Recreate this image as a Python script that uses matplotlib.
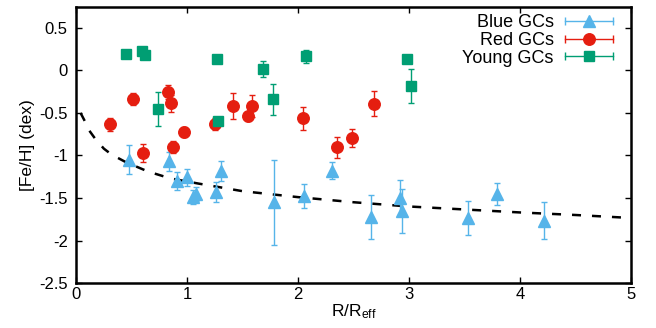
import matplotlib
matplotlib.use('Agg')
from matplotlib import pyplot as plt
from matplotlib.lines import Line2D
from matplotlib.legend_handler import HandlerLine2D, HandlerTuple

plt.rcParams['font.family'] = ['Liberation Sans', 'DejaVu Sans']
plt.rcParams['mathtext.fontset'] = 'custom'
plt.rcParams['mathtext.rm'] = 'Liberation Sans'
plt.rcParams['mathtext.it'] = 'Liberation Sans:italic'
plt.rcParams['axes.unicode_minus'] = False

# Blue GCs
blue_r = [0.48, 0.835, 0.907, 1.003, 1.057, 1.08, 1.26, 1.31, 1.78, 2.05, 2.31,
          2.655, 2.92, 2.94, 3.53, 3.79, 4.22]
blue_feh = [-1.05, -1.07, -1.30, -1.255, -1.49, -1.45, -1.43, -1.18, -1.55, -1.48, -1.18,
            -1.72, -1.50, -1.65, -1.73, -1.45, -1.765]
blue_err = [0.17, 0.11, 0.11, 0.10, 0.08, 0.08, 0.12, 0.12, 0.50, 0.14, 0.10,
            0.26, 0.21, 0.26, 0.20, 0.13, 0.22]

# Red GCs
red_r = [0.306, 0.514, 0.606, 0.832, 0.856, 0.877, 0.973, 1.255, 1.417, 1.55, 1.583,
         2.04, 2.35, 2.49, 2.685]
red_feh = [-0.635, -0.333, -0.97, -0.255, -0.385, -0.906, -0.725, -0.635, -0.416, -0.54, -0.416,
           -0.565, -0.906, -0.796, -0.392]
red_err = [0.08, 0.07, 0.11, 0.08, 0.10, 0.07, 0.06, 0.07, 0.15, 0.05, 0.13,
           0.14, 0.12, 0.11, 0.145]

# Young GCs
young_r = [0.45, 0.595, 0.62, 0.736, 1.27, 1.28, 1.68, 1.775, 2.07, 2.985, 3.015]
young_feh = [0.19, 0.227, 0.176, -0.459, 0.133, -0.596, 0.016, -0.341, 0.165, 0.133, -0.188]
young_err = [0.02, 0.02, 0.02, 0.20, 0.02, 0.05, 0.09, 0.18, 0.08, 0.05, 0.20]

# dashed profile
prof_r = [0.04, 0.08, 0.12, 0.17, 0.25, 0.32, 0.45, 0.65, 0.85, 1.1, 1.5, 2.0,
          2.5, 3.0, 3.5, 4.0, 4.5, 5.0]
prof_feh = [-0.50, -0.60, -0.71, -0.80, -0.92, -0.99, -1.08, -1.19, -1.27, -1.33, -1.42, -1.49,
            -1.55, -1.60, -1.635, -1.67, -1.70, -1.735]

c_blue = '#56b4e9'
c_red = '#e51e10'
c_green = '#009e73'

fig = plt.figure(figsize=(6.56, 3.28), dpi=100)
ax = fig.add_axes([0.116, 0.137, 0.846, 0.843])

ax.plot(prof_r, prof_feh, color='black', lw=1.8, linestyle=(0, (3.6, 4.4)), zorder=1)

ax.errorbar(blue_r, blue_feh, yerr=blue_err, fmt='^', color=c_blue, ms=9, mec=c_blue,
            elinewidth=1.0, capsize=2.2, capthick=1.0, zorder=3)
ax.errorbar(red_r, red_feh, yerr=red_err, fmt='o', color=c_red, ms=8.3, mec=c_red,
            elinewidth=1.0, capsize=2.2, capthick=1.0, zorder=3)
ax.errorbar(young_r, young_feh, yerr=young_err, fmt='s', color=c_green, ms=7.8, mec=c_green,
            elinewidth=1.0, capsize=2.2, capthick=1.0, zorder=3)

ax.set_xlim(0, 5)
ax.set_ylim(-2.5, 0.75)
ax.set_xticks([0, 1, 2, 3, 4, 5])
ax.set_yticks([-2.5, -2, -1.5, -1, -0.5, 0, 0.5])
ax.set_yticklabels(['-2.5', '-2', '-1.5', '-1', '-0.5', '0', '0.5'])
ax.tick_params(direction='in', top=True, right=True, length=4, width=1.0, labelsize=12)
ax.tick_params(axis='y', pad=6)
ax.tick_params(axis='x', pad=3)
for s in ax.spines.values():
    s.set_linewidth(1.8)

ax.set_xlabel(r'R/R$_{\rm eff}$', fontsize=12.5, labelpad=0)
ax.set_ylabel('[Fe/H] (dex)', fontsize=12.5, labelpad=3)

# gnuplot-like legend keys: horizontal bar with end caps plus the marker
handles = []
hmap = {}
for c, m, ms in [(c_blue, '^', 9), (c_red, 'o', 8.3), (c_green, 's', 7.8)]:
    bar = Line2D([], [], color=c, lw=1.0, marker='|', ms=6, mew=1.0)
    mk = Line2D([], [], color=c, marker=m, ms=ms, linestyle='none')
    hmap[bar] = HandlerLine2D(numpoints=2, marker_pad=0.0)
    handles.append((bar, mk))
hmap[tuple] = HandlerTuple(ndivide=1)
ax.legend(handles, ['Blue GCs', 'Red GCs', 'Young GCs'], handler_map=hmap,
          loc='upper right', bbox_to_anchor=(0.968, 0.972), borderaxespad=0, borderpad=0,
          frameon=False, markerfirst=False, fontsize=13, labelspacing=0.04,
          handlelength=2.7, handletextpad=0.6)

fig.savefig('out.png', dpi=100)
